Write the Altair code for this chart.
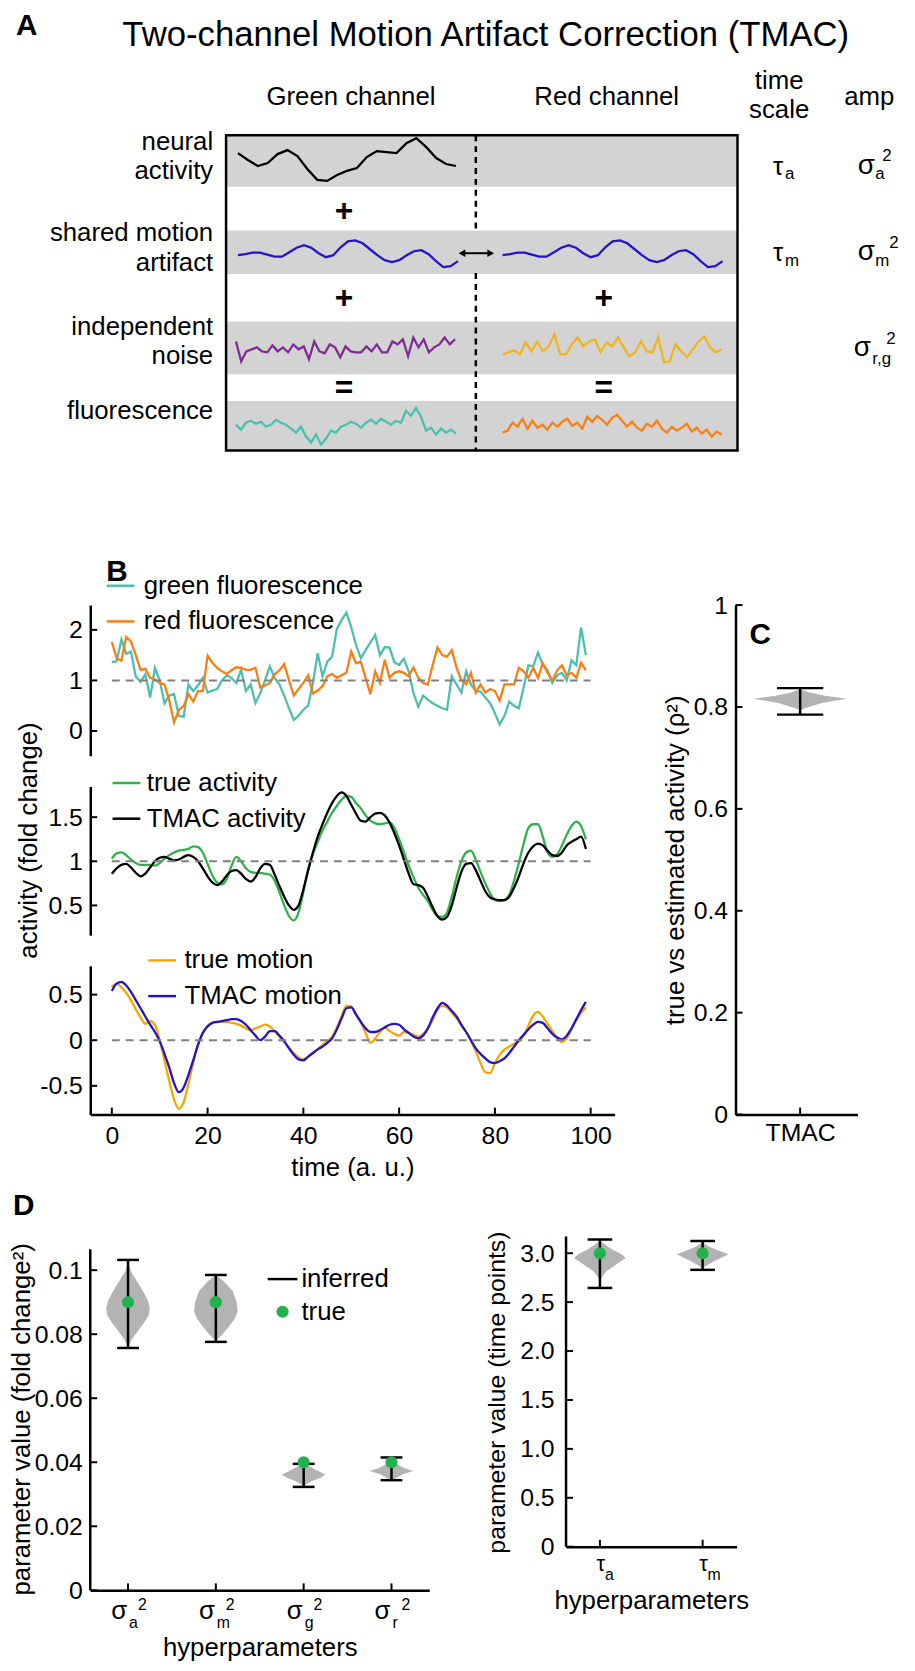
import altair as alt
import pandas as pd

FONT = "Liberation Sans"
LFS = 25   # tick label font size
TFS = 26   # axis title font size

# ---------------------------------------------------------------- panel B data
TIME = list(range(100))
GREEN_FLUOR = [1.36,1.38,1.81,1.53,1.57,1.08,0.97,1.12,0.66,1.25,
               1.00,0.55,0.70,0.73,0.30,0.28,0.92,0.79,0.90,1.05,
               0.76,0.80,0.83,1.00,1.10,1.05,0.95,1.21,0.79,0.92,
               0.55,0.75,1.00,1.28,1.05,0.92,0.70,0.45,0.22,0.30,
               0.42,0.50,0.95,1.54,1.08,1.37,1.47,2.02,2.20,2.34,
               2.05,1.70,1.44,1.60,1.75,1.90,1.50,1.66,1.65,1.36,
               1.31,1.43,1.18,0.75,0.48,0.70,0.62,0.55,0.50,0.45,
               0.42,1.08,0.92,0.76,1.18,0.92,0.79,0.78,0.66,0.55,
               0.35,0.13,0.30,0.58,0.50,0.45,0.86,1.30,1.28,1.55,
               1.31,1.20,0.95,1.10,1.15,1.00,1.40,1.30,2.05,1.50]
RED_FLUOR = [1.76,1.44,1.39,1.86,1.77,1.50,1.21,1.23,1.05,1.02,
             0.95,0.92,0.60,0.17,0.42,0.49,0.73,0.58,0.79,0.79,
             1.49,1.35,1.25,1.18,1.13,1.20,1.26,1.25,1.21,1.21,
             1.25,0.86,0.90,0.95,1.12,1.20,1.32,1.00,0.70,0.83,
             0.95,1.10,0.74,0.80,0.89,1.08,1.13,1.05,1.10,1.15,
             1.57,1.34,1.37,1.05,0.73,1.18,0.95,1.41,1.05,1.15,
             1.18,1.15,1.08,1.26,1.05,0.95,0.92,1.30,1.65,1.50,
             1.47,1.60,1.25,1.00,0.92,1.15,0.76,0.92,0.76,0.83,
             0.79,0.60,0.92,0.92,0.92,1.25,1.18,1.05,1.25,1.05,
             1.34,1.15,1.00,1.20,1.30,1.10,1.15,1.05,1.35,1.20]
TRUE_ACT = [1.03,1.09,1.10,1.07,1.02,0.98,0.96,0.96,0.96,0.95,
            0.98,1.03,1.07,1.10,1.12,1.13,1.14,1.17,1.16,1.10,
            0.97,0.84,0.76,0.74,0.80,0.95,1.05,1.00,0.92,0.88,
            0.87,0.87,0.86,0.85,0.78,0.65,0.50,0.38,0.33,0.42,
            0.65,0.90,1.08,1.22,1.35,1.45,1.55,1.63,1.70,1.74,
            1.73,1.66,1.60,1.52,1.46,1.43,1.42,1.43,1.44,1.38,
            1.25,1.10,0.95,0.82,0.70,0.62,0.55,0.45,0.38,0.37,
            0.42,0.60,0.82,1.00,1.10,1.12,1.02,0.88,0.75,0.64,
            0.56,0.55,0.56,0.62,0.78,0.98,1.20,1.38,1.42,1.42,
            1.28,1.10,1.05,1.08,1.18,1.30,1.40,1.45,1.40,1.25]
TMAC_ACT = [0.86,0.92,0.96,0.97,0.93,0.87,0.83,0.86,0.93,1.00,
            1.04,1.05,1.03,1.01,1.02,1.05,1.07,1.05,1.00,0.92,
            0.83,0.76,0.73,0.77,0.84,0.89,0.90,0.86,0.80,0.77,
            0.82,0.92,0.97,0.96,0.85,0.72,0.60,0.50,0.45,0.50,
            0.68,0.90,1.10,1.28,1.42,1.55,1.66,1.74,1.78,1.74,
            1.64,1.54,1.46,1.45,1.50,1.54,1.55,1.52,1.44,1.32,
            1.18,1.02,0.86,0.74,0.73,0.70,0.60,0.48,0.38,0.34,
            0.37,0.50,0.70,0.88,0.97,0.98,0.90,0.78,0.66,0.59,
            0.57,0.56,0.56,0.60,0.70,0.83,0.98,1.10,1.17,1.20,
            1.18,1.12,1.07,1.06,1.10,1.18,1.22,1.25,1.28,1.14]
TRUE_MOT = [0.58,0.62,0.58,0.52,0.44,0.34,0.25,0.18,0.21,0.17,
            0.00,-0.22,-0.45,-0.65,-0.75,-0.68,-0.48,-0.25,-0.05,0.08,
            0.16,0.19,0.20,0.20,0.20,0.19,0.18,0.16,0.13,0.11,
            0.13,0.15,0.17,0.15,0.10,0.04,-0.02,-0.08,-0.14,-0.19,
            -0.21,-0.18,-0.14,-0.10,-0.05,-0.01,0.04,0.14,0.27,0.38,
            0.37,0.29,0.20,0.08,-0.03,0.02,0.09,0.14,0.10,0.07,
            0.05,0.09,0.08,0.06,0.04,0.07,0.13,0.22,0.33,0.38,
            0.36,0.30,0.24,0.16,0.09,-0.01,-0.12,-0.25,-0.35,-0.36,
            -0.25,-0.16,-0.10,-0.07,-0.04,-0.01,0.05,0.16,0.27,0.31,
            0.26,0.18,0.10,0.02,-0.02,0.02,0.12,0.22,0.30,0.36]
TMAC_MOT = [0.54,0.62,0.64,0.60,0.53,0.44,0.35,0.26,0.17,0.09,
            -0.01,-0.15,-0.30,-0.47,-0.57,-0.52,-0.38,-0.22,-0.05,0.08,
            0.15,0.19,0.20,0.21,0.22,0.23,0.23,0.21,0.17,0.11,
            0.05,0.00,0.04,0.10,0.10,0.05,-0.01,-0.09,-0.16,-0.21,
            -0.22,-0.18,-0.14,-0.10,-0.07,-0.03,0.02,0.12,0.24,0.35,
            0.36,0.28,0.20,0.13,0.09,0.09,0.11,0.14,0.17,0.18,
            0.17,0.12,0.08,0.04,0.02,0.05,0.13,0.25,0.35,0.41,
            0.38,0.32,0.26,0.17,0.09,0.00,-0.09,-0.15,-0.20,-0.24,
            -0.25,-0.23,-0.20,-0.14,-0.07,0.00,0.06,0.12,0.17,0.20,
            0.19,0.13,0.07,0.03,0.01,0.05,0.13,0.23,0.33,0.42]

# ---------------------------------------------------------------- panel C data
C_CAT = 1
C_LO, C_HI = 0.785, 0.837
C_PROF_V = [0.835, 0.828, 0.822, 0.818, 0.816, 0.813, 0.808, 0.802, 0.797, 0.793]
C_PROF_W = [0, 10, 25, 40, 47, 38, 22, 12, 4, 0]

# ---------------------------------------------------------------- panel D data
D1_CATS = [1, 2, 3, 4]
D1_SUB = ["a", "m", "g", "r"]
D1_LO = [0.0757, 0.0776, 0.0323, 0.0344]
D1_HI = [0.1032, 0.0985, 0.0395, 0.0415]
D1_TRUE = [0.09, 0.09, 0.04, 0.04]
D1_PROF = [
    ([0.1030, 0.0995, 0.0965, 0.0935, 0.0905, 0.0880, 0.0860, 0.0835, 0.0810, 0.0785, 0.0760],
     [0, 3, 9, 15, 20, 22, 21, 16, 10, 4, 0]),
    ([0.0985, 0.0965, 0.0935, 0.0900, 0.0870, 0.0848, 0.0827, 0.0801, 0.0778],
     [0, 8, 17, 21, 22, 19, 14, 7, 0]),
    ([0.0398, 0.0385, 0.0372, 0.0362, 0.0352, 0.0342, 0.0332, 0.0325],
     [0, 7, 15, 22, 17, 9, 3, 0]),
    ([0.0410, 0.0395, 0.0383, 0.0373, 0.0363, 0.0352, 0.0343],
     [0, 5, 12, 22, 12, 5, 0]),
]
D2_CATS = [1, 2]
D2_SUB = ["a", "m"]
D2_LO = [2.645, 2.83]
D2_HI = [3.14, 3.125]
D2_TRUE = [3.0, 3.0]
D2_PROF = [
    ([3.13, 3.09, 3.04, 2.99, 2.95, 2.91, 2.86, 2.82, 2.77, 2.72],
     [0, 5, 12, 22, 26, 20, 13, 7, 3, 0]),
    ([3.11, 3.06, 3.02, 2.99, 2.96, 2.92, 2.88, 2.85],
     [0, 8, 18, 26, 20, 12, 5, 0]),
]

# ---------------------------------------------------------------- panel A schematic data
A_NEURAL = [7, 0, -6, -3, 6, 10, 4, -9, -20, -21, -15, -11, -8, 3, 9, 8, 7, 17, 22, 13, 2, -4, -6]
A_MOTION = [-3, -2, -0.5, -0.5, -2.5, -4.5, -4.5, 0, 4.5, 7, 4.5, -1, -5, -3, 5, 11, 12, 9, 3, -3,
            -8, -10, -8, -3, 1, 2, -2, -9, -15, -14, -9]
A_NOISE_G = [6, -14, -4, -2, 0, -4, -5, 2, -4, 0, -5, 3, -2, 1, -12, 6, -4, -6, 3, 0, -10, 1, -4,
             -5, -5, 1, -4, 3, -5, -5, 6, 3, 8, -9, 10, 0, 8, -5, 0, 3, 10, 3, 8]
A_NOISE_R = [-7, -5, -3, -7, 5, -4, 6, -4, 1, 13, -7, -7, 3, 10, 1, 6, 8, -5, 5, 1, 10, 0, -9, -5,
             6, -4, -5, 10, -15, -14, 3, -4, -10, -2, 6, 11, 0, -5, -2]
A_FLUOR_G = [0, -5, 2, 4, 1, 3, -2, 0, 5, 2, 0, -4, -8, -2, -12, -18, -10, -20, -14, -6, -8, -2, 0,
             3, 1, -3, 2, 5, 1, 6, 3, 0, 4, 2, 14, 9, 17, 8, -6, -3, -10, -4, -8, -5, -9]
A_FLUOR_R = [-8, -6, 2, -2, 6, -4, 4, -3, 0, -5, 2, -2, 3, 6, -1, 2, -4, 8, 3, 9, 5, 0, 7, 10, 4,
             -2, 3, -3, -6, 1, -2, 4, -4, -8, -2, -6, -3, 1, -7, -3, -9, -5, -12, -7, -10]

# colours
C_TEAL, C_ORANGE, C_GREEN, C_GOLD, C_BLUE = "#4CBFAF", "#FA7F12", "#2EB34B", "#F7A600", "#2313C9"
C_PURPLE, C_YELLOW, C_BAND, C_VIOLIN, C_DOT = "#7D2E8E", "#F0B323", "#D3D3D3", "#B3B3B3", "#22B14C"

# ================================================================ helpers
def axis(**kw):
    base = dict(domainColor="black", domainWidth=2.5, ticks=False, grid=False,
                labelFont=FONT, labelFontSize=LFS, labelColor="black", labelPadding=8,
                titleFont=FONT, titleFontSize=TFS, titleFontWeight="normal", titleColor="black",
                titleLimit=1000)
    base.update(kw)
    return alt.Axis(**base)


def yticks(vals, scale):
    return alt.Chart(pd.DataFrame({"tv": vals})).mark_rule(color="black", strokeWidth=2).encode(
        y=alt.Y("tv:Q", scale=scale), x=alt.value(0), x2=alt.value(7))


def xticks(vals, scale, h):
    return alt.Chart(pd.DataFrame({"tv": vals})).mark_rule(color="black", strokeWidth=2).encode(
        x=alt.X("tv:Q", scale=scale), y=alt.value(h), y2=alt.value(h - 7))


XS_B = alt.Scale(domain=[-4.5, 105], nice=False, zero=False)
NEG_LABEL = "datum.value < 0 ? '-' + format(-datum.value, '~g') : format(datum.value, '~g')"


def ts_panel(names, series, colors, ydom, ticks, h, lx, ly, loff, base, xaxis=False, yax_extra=None,
             smooth=False):
    rows = []
    for n, s in zip(names, series):
        for ti, v in zip(TIME, s):
            rows.append({"t": ti, "v": v, "s": n})
    df = pd.DataFrame(rows)
    ys = alt.Scale(domain=ydom, nice=False, zero=False)
    if xaxis:
        xax = axis(values=[0, 20, 40, 60, 80, 100], format="d", title="time (a. u.)",
                   titlePadding=6, labelPadding=9)
    else:
        xax = None
    ykw = dict(values=ticks, labelExpr=NEG_LABEL, title=None)
    if yax_extra:
        ykw.update(yax_extra)
    yax = axis(**ykw)
    lines = alt.Chart(df).mark_line(strokeWidth=2.3, interpolate="monotone" if smooth else "linear").encode(
        x=alt.X("t:Q", scale=XS_B, axis=xax),
        y=alt.Y("v:Q", scale=ys, axis=yax),
        color=alt.Color("s:N", scale=alt.Scale(domain=names, range=colors),
                        legend=alt.Legend(orient="none", legendX=lx, legendY=ly, title=None,
                                          symbolType="stroke", symbolSize=784, symbolStrokeWidth=2.5,
                                          labelFont=FONT, labelFontSize=26, labelColor="black",
                                          labelOffset=loff, rowPadding=7, padding=0, labelLimit=500)),
    )
    dash = alt.Chart(pd.DataFrame({"a": [0], "b": [100], "y": [base]})).mark_rule(
        color="#808080", strokeWidth=2, strokeDash=[8, 6]).encode(
        x=alt.X("a:Q", scale=XS_B), x2="b:Q", y=alt.Y("y:Q", scale=ys))
    layers = [lines, dash, yticks(ticks, ys)]
    if xaxis:
        layers.append(xticks([0, 20, 40, 60, 80, 100], XS_B, h))
    return alt.layer(*layers).properties(width=529, height=h)


def violin_df(cats, profs, hw_units, maxpx):
    rows = []
    for c, (vs, ws) in zip(cats, profs):
        for v, w in zip(vs, ws):
            rows.append({"cat": c, "v": v, "xl": c - w / maxpx * hw_units, "xr": c + w / maxpx * hw_units})
    return pd.DataFrame(rows)


def whisker_layers(cats, lo, hi, capw, xs, ys):
    df = pd.DataFrame({"cat": cats, "lo": lo, "hi": hi,
                       "cl": [c - capw for c in cats], "cr": [c + capw for c in cats]})
    st = dict(color="black", strokeWidth=2.5)
    vert = alt.Chart(df).mark_rule(**st).encode(
        x=alt.X("cat:Q", scale=xs), y=alt.Y("lo:Q", scale=ys), y2="hi:Q")
    cap_lo = alt.Chart(df).mark_rule(**st).encode(
        x=alt.X("cl:Q", scale=xs), x2="cr:Q", y=alt.Y("lo:Q", scale=ys))
    cap_hi = alt.Chart(df).mark_rule(**st).encode(
        x=alt.X("cl:Q", scale=xs), x2="cr:Q", y=alt.Y("hi:Q", scale=ys))
    return [vert, cap_lo, cap_hi]


# ================================================================ panel A
AX = alt.Scale(domain=[91, 907], nice=False, zero=False)
AY = alt.Scale(domain=[8, 480], nice=False, zero=False, reverse=True)

BOX = dict(x0=228, x1=744, y0=129, y1=447)
BAND_TOP = [129, 225, 317, 397]
BAND_BOT = [181, 269, 370, 447]

bands = alt.Chart(pd.DataFrame({"x0": [BOX["x0"]] * 4, "x1": [BOX["x1"]] * 4,
                                "y0": BAND_TOP, "y1": BAND_BOT})).mark_rect(color=C_BAND).encode(
    x=alt.X("x0:Q", scale=AX, axis=None), x2="x1:Q", y=alt.Y("y0:Q", scale=AY, axis=None), y2="y1:Q")
box = alt.Chart(pd.DataFrame([BOX])).mark_rect(fillOpacity=0, stroke="black", strokeWidth=2.5).encode(
    x=alt.X("x0:Q", scale=AX, axis=None), x2="x1:Q", y=alt.Y("y0:Q", scale=AY, axis=None), y2="y1:Q")
dashed = alt.Chart(pd.DataFrame({"x": [480, 480], "y0": [129, 268], "y1": [224, 447]})).mark_rule(
    color="black", strokeWidth=2.5, strokeDash=[6, 5]).encode(
    x=alt.X("x:Q", scale=AX, axis=None), y=alt.Y("y0:Q", scale=AY, axis=None), y2="y1:Q")
arrow_line = alt.Chart(pd.DataFrame({"x0": [467], "x1": [494], "y": [248]})).mark_rule(
    color="black", strokeWidth=2).encode(
    x=alt.X("x0:Q", scale=AX, axis=None), x2="x1:Q", y=alt.Y("y:Q", scale=AY, axis=None))
arrow_heads = alt.Chart(pd.DataFrame({"x": [466, 495], "y": [248, 248],
                                      "sh": ["triangle-left", "triangle-right"]})).mark_point(
    filled=True, size=60, color="black", opacity=1).encode(
    x=alt.X("x:Q", scale=AX, axis=None), y=alt.Y("y:Q", scale=AY, axis=None),
    shape=alt.Shape("sh:N", scale=None))


def trace_rows(vals, x0, x1, yc, col, seg):
    n = len(vals)
    return [{"x": x0 + (x1 - x0) * i / (n - 1), "y": yc - v, "col": col, "seg": seg}
            for i, v in enumerate(vals)]


tr = []
tr += trace_rows(A_NEURAL, 240, 460, 154, "#000000", "neural")
tr += trace_rows(A_MOTION, 240, 462, 247, C_BLUE, "motion_g")
tr += trace_rows(A_MOTION, 507, 729, 247, C_BLUE, "motion_r")
tr += trace_rows(A_NOISE_G, 238, 459, 343, C_PURPLE, "noise_g")
tr += trace_rows(A_NOISE_R, 507, 728, 343, C_YELLOW, "noise_r")
tr += trace_rows(A_FLUOR_G, 238, 460, 421, C_TEAL, "fluor_g")
tr += trace_rows(A_FLUOR_R, 507, 728, 421, C_ORANGE, "fluor_r")
traces = alt.Chart(pd.DataFrame(tr)).mark_line(strokeWidth=2.3).encode(
    x=alt.X("x:Q", scale=AX, axis=None), y=alt.Y("y:Q", scale=AY, axis=None),
    color=alt.Color("col:N", scale=None), detail="seg:N")


def text_layer(items, align="center", weight="normal"):
    df = pd.DataFrame(items, columns=["txt", "x", "y", "fs"])
    return alt.Chart(df).mark_text(align=align, baseline="middle", font=FONT, fontWeight=weight,
                                   color="black").encode(
        x=alt.X("x:Q", scale=AX, axis=None), y=alt.Y("y:Q", scale=AY, axis=None),
        text="txt:N", size=alt.Size("fs:Q", scale=None))


txt_center = text_layer([
    ("Two-channel Motion Artifact Correction (TMAC)", 490, 28, 35),
    ("Green channel", 354, 90, 26), ("Red channel", 612, 90, 26),
    ("time", 786, 74, 26), ("scale", 786, 104, 26), ("amp", 877, 90, 26),
    ("τ", 785, 161, 26), ("σ", 874, 160, 28),
    ("τ", 785, 248, 26), ("σ", 874, 247, 28),
    ("σ", 870, 344, 28),
])
txt_right = text_layer([
    ("neural", 215, 136, 26), ("activity", 215, 165, 26),
    ("shared motion", 215, 228, 26), ("artifact", 215, 258, 26),
    ("independent", 215, 323, 26), ("noise", 215, 352, 26),
    ("fluorescence", 215, 407, 26),
], align="right")
txt_left = text_layer([
    ("a", 792, 168, 17), ("a", 883, 168, 17), ("2", 890, 150, 17),
    ("m", 792, 256, 17), ("m", 883, 256, 17), ("2", 897, 238, 17),
    ("r,g", 880, 355, 17), ("2", 894, 335, 17),
], align="left")
txt_bold = text_layer([
    ("A", 27, 19, 30), ("B", 118, 570, 30), ("C", 767, 633, 30), ("D", 24, 1209, 30),
    ("+", 347, 206, 32), ("+", 347, 293, 32), ("+", 609, 293, 32),
    ("=", 347, 384, 32), ("=", 609, 384, 32),
], weight="bold")

panelA = alt.layer(bands, box, dashed, arrow_line, arrow_heads, traces,
                   txt_center, txt_right, txt_left, txt_bold).properties(width=816, height=472)

# ================================================================ panel B
B2_TOP = 603 + 152 + 31
B1 = ts_panel(["green fluorescence", "red fluorescence"], [GREEN_FLUOR, RED_FLUOR], [C_TEAL, C_ORANGE],
              [-0.49, 2.49], [0, 1, 2], 152, 15, -35, 8, 1)
B2 = ts_panel(["true activity", "TMAC activity"], [TRUE_ACT, TMAC_ACT], [C_GREEN, "#000000"],
              [0.163, 1.848], [0.5, 1, 1.5], 150, 21, -19, 5, 1,
              yax_extra=dict(title="activity (fold change)", titlePadding=6, titleY=840 - B2_TOP),
              smooth=True)
B3 = ts_panel(["true motion", "TMAC motion"], [TRUE_MOT, TMAC_MOT], [C_GOLD, C_BLUE],
              [-0.815, 0.815], [-0.5, 0, 0.5], 150, 57, -21, 7, 0, xaxis=True, smooth=True)

# ================================================================ panel C
CXS = alt.Scale(domain=[0.47, 1.47], nice=False, zero=False)
CYS = alt.Scale(domain=[0, 1], nice=False, zero=False)
C_H = 514
c_violin = alt.Chart(violin_df([C_CAT], [(C_PROF_V, C_PROF_W)], 0.382, 47)).mark_area(
    orient="horizontal", color=C_VIOLIN, opacity=1).encode(
    y=alt.Y("v:Q", scale=CYS, axis=axis(values=[0, 0.2, 0.4, 0.6, 0.8, 1], format="~g",
                                          title="true vs estimated activity (ρ²)", titlePadding=5)),
    x=alt.X("xl:Q", scale=CXS, axis=axis(values=[1], labelExpr="'TMAC'", title=None, labelPadding=6)),
    x2="xr:Q", detail="cat:N")
panelC = alt.layer(c_violin, *whisker_layers([C_CAT], [C_LO], [C_HI], 0.19, CXS, CYS),
                   yticks([0, 0.2, 0.4, 0.6, 0.8, 1], CYS), xticks([1], CXS, C_H)).properties(
    width=123, height=C_H)

# ================================================================ panel D
ROW3_TOP = 1148  # page y of the D plot areas (B3 bottom + spacing)
D1XS = alt.Scale(domain=[0.57, 4.43], nice=False, zero=False)
D1_H = 449
D1YS = alt.Scale(domain=[0, D1_H / 3230], nice=False, zero=False)
d1_violin = alt.Chart(violin_df(D1_CATS, D1_PROF, 0.248, 22)).mark_area(
    orient="horizontal", color=C_VIOLIN, opacity=1).encode(
    y=alt.Y("v:Q", scale=D1YS, axis=axis(values=[0, 0.02, 0.04, 0.06, 0.08, 0.1], format="~g",
                                           domain=False, labelPadding=8, titleY=1424 - ROW3_TOP,
                                           title="parameter value (fold change²)", titlePadding=0)),
    x=alt.X("xl:Q", scale=D1XS, axis=axis(labels=False, title="hyperparameters", titlePadding=45)),
    x2="xr:Q", detail="cat:N")
d1_domain = alt.Chart(pd.DataFrame({"a": [0], "b": [0.1065]})).mark_rule(
    color="black", strokeWidth=2.5).encode(
    x=alt.value(0), y=alt.Y("a:Q", scale=D1YS), y2="b:Q")
d1_dots = alt.Chart(pd.DataFrame({"cat": D1_CATS, "v": D1_TRUE})).mark_circle(
    size=150, color=C_DOT, opacity=1).encode(
    x=alt.X("cat:Q", scale=D1XS), y=alt.Y("v:Q", scale=D1YS))
d1_lab = pd.DataFrame({"cat": D1_CATS, "sub": D1_SUB, "sig": ["σ"] * 4, "sq": ["2"] * 4})
d1_sig = alt.Chart(d1_lab).mark_text(align="right", baseline="middle", fontSize=26, dx=-1,
                                     color="black").encode(
    x=alt.X("cat:Q", scale=D1XS), y=alt.value(D1_H + 21), text="sig:N")
d1_sub = alt.Chart(d1_lab).mark_text(align="left", baseline="middle", fontSize=16, dx=1,
                                     color="black").encode(
    x=alt.X("cat:Q", scale=D1XS), y=alt.value(D1_H + 33), text="sub:N")
d1_sq = alt.Chart(d1_lab).mark_text(align="left", baseline="middle", fontSize=16, dx=10,
                                    color="black").encode(
    x=alt.X("cat:Q", scale=D1XS), y=alt.value(D1_H + 15), text="sq:N")
one = pd.DataFrame({"a": [0]})
LEG_Y1, LEG_Y2 = 1283 - ROW3_TOP, 1316 - ROW3_TOP
d1_leg_line = alt.Chart(one).mark_rule(color="black", strokeWidth=2.5).encode(
    x=alt.value(179), x2=alt.value(209), y=alt.value(LEG_Y1))
d1_leg_dot = alt.Chart(one).mark_circle(size=150, color=C_DOT, opacity=1).encode(
    x=alt.value(194), y=alt.value(LEG_Y2))
d1_leg_t1 = alt.Chart(one).mark_text(text="inferred", align="left", baseline="middle", fontSize=26,
                                     color="black").encode(x=alt.value(213), y=alt.value(LEG_Y1))
d1_leg_t2 = alt.Chart(one).mark_text(text="true", align="left", baseline="middle", fontSize=26,
                                     color="black").encode(x=alt.value(213), y=alt.value(LEG_Y2))
panelD1 = alt.layer(d1_violin, d1_domain, *whisker_layers(D1_CATS, D1_LO, D1_HI, 0.124, D1XS, D1YS),
                    d1_dots, yticks([0, 0.02, 0.04, 0.06, 0.08, 0.1], D1YS), xticks(D1_CATS, D1XS, D1_H),
                    d1_sig, d1_sub, d1_sq, d1_leg_line, d1_leg_dot, d1_leg_t1, d1_leg_t2).properties(
    width=342, height=D1_H)

D2XS = alt.Scale(domain=[0.67, 2.33], nice=False, zero=False)
D2_H = 405
D2YS = alt.Scale(domain=[0, D2_H / 98.7], nice=False, zero=False)
D2_TICKS = [0, 0.5, 1, 1.5, 2, 2.5, 3]
d2_violin = alt.Chart(violin_df(D2_CATS, D2_PROF, 0.251, 26)).mark_area(
    orient="horizontal", color=C_VIOLIN, opacity=1).encode(
    y=alt.Y("v:Q", scale=D2YS, axis=axis(values=D2_TICKS, domain=False,
                                           labelExpr="datum.value == 0 ? '0' : format(datum.value, '.1f')",
                                           labelPadding=12, title="parameter value (time points)",
                                           titlePadding=10, titleY=1397 - ROW3_TOP, titleFontSize=25)),
    x=alt.X("xl:Q", scale=D2XS, axis=axis(labels=False, title="hyperparameters", titlePadding=41)),
    x2="xr:Q", detail="cat:N")
d2_domain = alt.Chart(pd.DataFrame({"a": [0], "b": [3.17]})).mark_rule(
    color="black", strokeWidth=2.5).encode(
    x=alt.value(0), y=alt.Y("a:Q", scale=D2YS), y2="b:Q")
d2_dots = alt.Chart(pd.DataFrame({"cat": D2_CATS, "v": D2_TRUE})).mark_circle(
    size=150, color=C_DOT, opacity=1).encode(
    x=alt.X("cat:Q", scale=D2XS), y=alt.Y("v:Q", scale=D2YS))
d2_lab = pd.DataFrame({"cat": D2_CATS, "sub": D2_SUB, "tau": ["τ"] * 2})
d2_tau = alt.Chart(d2_lab).mark_text(align="center", baseline="middle", fontSize=22, dx=1,
                                     color="black").encode(
    x=alt.X("cat:Q", scale=D2XS), y=alt.value(D2_H + 18), text="tau:N")
d2_sub = alt.Chart(d2_lab).mark_text(align="left", baseline="middle", fontSize=16, dx=5,
                                     color="black").encode(
    x=alt.X("cat:Q", scale=D2XS), y=alt.value(D2_H + 29), text="sub:N")
panelD2 = alt.layer(d2_violin, d2_domain, *whisker_layers(D2_CATS, D2_LO, D2_HI, 0.12, D2XS, D2YS),
                    d2_dots, yticks(D2_TICKS, D2YS), xticks(D2_CATS, D2XS, D2_H),
                    d2_tau, d2_sub).properties(width=172, height=D2_H)

# ================================================================ assemble
# with "flush" bounds a nested concat counts as zero-sized for its parent, so spacings below
# are chosen so that every plot area lands on its reference position.
row3 = alt.hconcat(panelD1, panelD2, spacing=138, bounds="flush")
leftcol = alt.vconcat(B1, B2, B3, row3, spacing=31, bounds="flush").resolve_scale(
    color="independent").resolve_legend(color="independent")
row2 = alt.hconcat(leftcol, panelC, spacing=651, bounds="flush").resolve_scale(color="independent")
chart = alt.vconcat(panelA, row2, spacing=123, bounds="flush",
                    autosize=alt.AutoSizeParams(type="none"),
                    padding={"left": 83, "top": 0, "right": 824, "bottom": 1663}).resolve_scale(
    color="independent").configure(font=FONT).configure_view(strokeWidth=0)

chart.save("out.html", embed_options={"renderer": "svg", "actions": False})
